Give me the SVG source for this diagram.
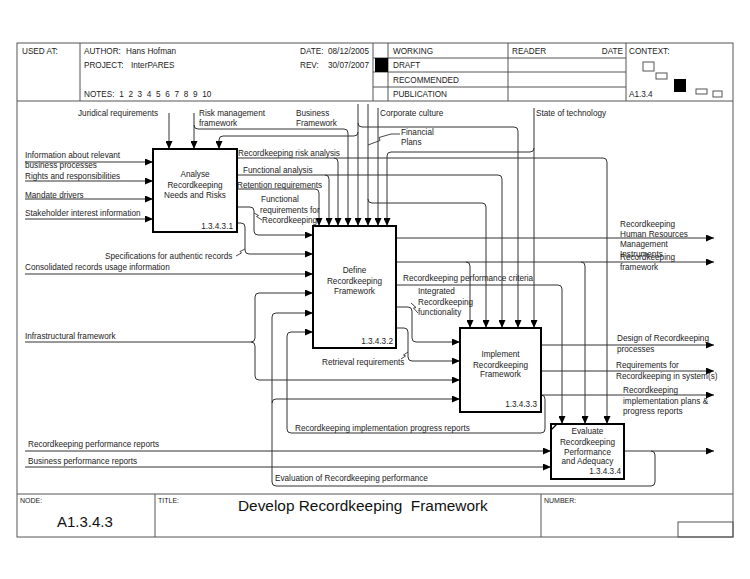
<svg xmlns="http://www.w3.org/2000/svg" width="750" height="579" viewBox="0 0 750 579">
<defs>
<marker id="ah" markerWidth="8" markerHeight="7" refX="8" refY="3.5" orient="auto" markerUnits="userSpaceOnUse"><path d="M0,0 L8,3.5 L0,7 z" fill="#000"/></marker>
<style>
.t{font-family:"Liberation Sans",Arial,sans-serif;font-size:8.2px;fill:#222}
.s{font-family:"Liberation Sans",Arial,sans-serif;font-size:7px;fill:#222}
.big{font-family:"Liberation Sans",Arial,sans-serif;font-size:15px;fill:#111}
.m{text-anchor:middle}
.f{fill:none;stroke:#555;stroke-width:1}
.c{fill:none;stroke:#333;stroke-width:1}
.a{marker-end:url(#ah)}
.box{fill:#fff;stroke:#000;stroke-width:2}
.sq{fill:none;stroke:#333;stroke-width:0.9}
</style>
</defs>
<rect width="750" height="579" fill="#fff"/>
<g id="frame">
<rect class="f" x="17" y="43" width="716" height="494"/>
<path class="f" d="M17,101H733 M80,43V101 M373,43V101 M388,43V101 M508,43V101 M626,43V101 M373,58H626 M373,72H626 M373,87H626"/>
<rect x="375" y="58" width="13" height="14" fill="#000"/>
<path class="f" d="M17,494H733 M155,494V537 M541,494V537"/>
<rect class="f" x="678" y="522" width="55" height="15"/>
<rect class="f" x="643" y="62" width="11" height="9"/>
<rect class="f" x="656" y="73" width="11" height="6"/>
<rect x="674" y="79" width="12" height="13" fill="#000"/>
<rect class="f" x="696" y="89" width="11" height="5"/>
<rect class="f" x="713" y="91" width="9" height="6"/>
</g>
<g id="header-text">
<text class="t" x="22" y="54">USED AT:</text>
<text class="t" x="84" y="54">AUTHOR:</text>
<text class="t" x="126" y="54">Hans Hofman</text>
<text class="t" x="300" y="54">DATE:</text>
<text class="t" x="328" y="54">08/12/2005</text>
<text class="t" x="84" y="68">PROJECT:</text>
<text class="t" x="131" y="68">InterPARES</text>
<text class="t" x="300" y="68">REV:</text>
<text class="t" x="328" y="68">30/07/2007</text>
<text class="t" x="84" y="97" word-spacing="2.4">NOTES: 1 2 3 4 5 6 7 8 9 10</text>
<text class="t" x="393" y="54">WORKING</text>
<text class="t" x="393" y="68">DRAFT</text>
<text class="t" x="393" y="83">RECOMMENDED</text>
<text class="t" x="393" y="97">PUBLICATION</text>
<text class="t" x="512" y="54">READER</text>
<text class="t" x="623" y="54" text-anchor="end">DATE</text>
<text class="t" x="629" y="54">CONTEXT:</text>
<text class="t" x="629" y="97">A1.3.4</text>
</g>
<g id="footer-text">
<text class="s" x="20" y="503">NODE:</text>
<text class="big" x="57" y="527">A1.3.4.3</text>
<text class="s" x="158" y="503">TITLE:</text>
<text class="big" x="238" y="511" style="font-size:15.4px" xml:space="preserve">Develop Recordkeeping  Framework</text>
<text class="s" x="544" y="503">NUMBER:</text>
</g>
<g id="connectors">
<path class="c a" d="M25,162H153"/>
<path class="c a" d="M25,181H153"/>
<path class="c a" d="M25,199H153"/>
<path class="c a" d="M25,219H153"/>
<path class="c a" d="M169,113V149"/>
<path class="c a" d="M194,113V149"/>
<path class="c a" d="M194,125Q194,129 198,129H344Q348,129 348,133V226"/>
<path class="c a" d="M358,104V226"/>
<path class="c a" d="M358,132Q358,136 354,136H223Q219,136 219,140V149"/>
<path class="c a" d="M358,123Q358,127 362,127H514Q518,127 518,131V328"/>
<path class="c a" d="M368,104V226"/>
<path class="c a" d="M368,199Q368,203 372,203H482Q486,203 486,207V328"/>
<path class="c a" d="M378,108V226"/>
<path class="c a" d="M534,108V328"/>
<path class="c a" d="M534,148Q534,152 530,152H391Q387,152 387,156V226"/>
<path class="c a" d="M237,158H603Q607,158 607,162V424"/>
<path class="c a" d="M334,158Q338,158 338,162V226"/>
<path class="c a" d="M237,175H498Q502,175 502,179V328"/>
<path class="c a" d="M325,175Q329,175 329,179V226"/>
<path class="c a" d="M237,189H315Q319,189 319,193V226"/>
<path class="c a" d="M237,207H250Q254,207 254,211V231Q254,235 258,235H313"/>
<path class="c a" d="M237,223H241Q245,223 245,227V250Q245,254 249,254H313"/>
<path class="c a" d="M25,274H313"/>
<path class="c a" d="M25,342H251Q255,342 255,338V297Q255,293 259,293H313"/>
<path class="c a" d="M251,342Q255,342 255,346V376Q255,380 259,380H460"/>
<path class="c a" d="M624,451H714"/>
<path class="c a" d="M651,451Q655,451 655,455V482Q655,486 651,486H276Q272,486 272,482V317Q272,313 276,313H313"/>
<path class="c a" d="M272,403Q272,399 276,399H460"/>
<path class="c a" d="M541,395H714"/>
<path class="c a" d="M541,395Q545,395 545,399V429Q545,433 541,433H291Q287,433 287,429V336Q287,332 291,332H313"/>
<path class="c a" d="M25,451H551"/>
<path class="c a" d="M25,467H551"/>
<path class="c a" d="M396,238H714"/>
<path class="c a" d="M396,262H714"/>
<path class="c a" d="M466,262Q470,262 470,266V328"/>
<path class="c a" d="M581,262Q585,262 585,266V424"/>
<path class="c a" d="M396,285H558Q562,285 562,289V424"/>
<path class="c a" d="M396,307H408Q412,307 412,311V338Q412,342 416,342H460"/>
<path class="c a" d="M396,328H404Q408,328 408,332V357Q408,361 412,361H460"/>
<path class="c a" d="M541,345H714"/>
<path class="c a" d="M541,371H714"/>
<path class="sq" d="M368,145L380,140.5L379,137.5L391,134H400"/>
<path class="sq" d="M254,213L258.5,215.5L256.5,216.5L262,220"/>
<path class="sq" d="M245,249L240,251.5L241.5,253L236,256"/>
<path class="sq" d="M411,303L416,307.5L413.5,308L418,313"/>
<path class="sq" d="M408,352L403.5,355L405.5,356L401,359"/>
</g>
<g id="labels">
<text class="t" x="78" y="116">Juridical requirements</text>
<text class="t" x="199" y="116">Risk management</text>
<text class="t" x="199" y="126">framework</text>
<text class="t" x="296" y="116">Business</text>
<text class="t" x="296" y="126">Framework</text>
<text class="t" x="380" y="116">Corporate culture</text>
<text class="t" x="401" y="135">Financial</text>
<text class="t" x="401" y="145">Plans</text>
<text class="t" x="536" y="116">State of technology</text>
<text class="t" x="25" y="158">Information about relevant</text>
<text class="t" x="25" y="168">business processes</text>
<text class="t" x="25" y="179">Rights and responsibilities</text>
<text class="t" x="25" y="198">Mandate drivers</text>
<text class="t" x="25" y="216">Stakeholder interest information</text>
<text class="t" x="238" y="156">Recordkeeping risk analysis</text>
<text class="t" x="243" y="173">Functional analysis</text>
<text class="t" x="237" y="188">Retention requirements</text>
<text class="t" x="261" y="202">Functional</text>
<text class="t" x="260" y="213">requirements for</text>
<text class="t" x="262" y="223">Recordkeeping</text>
<text class="t" x="105" y="259">Specifications for authentic records</text>
<text class="t" x="25" y="270">Consolidated records usage information</text>
<text class="t" x="25" y="339">Infrastructural framework</text>
<text class="t" x="403" y="281">Recordkeeping performance criteria</text>
<text class="t" x="418" y="294">Integrated</text>
<text class="t" x="418" y="304.5">Recordkeeping</text>
<text class="t" x="418" y="315">functionality</text>
<text class="t" x="322" y="365">Retrieval requirements</text>
<text class="t" x="295" y="431">Recordkeeping implementation progress reports</text>
<text class="t" x="28" y="447">Recordkeeping performance reports</text>
<text class="t" x="28" y="464">Business performance reports</text>
<text class="t" x="275" y="481">Evaluation of Recordkeeping performance</text>
<text class="t" x="620" y="227">Recordkeeping</text>
<text class="t" x="620" y="237">Human Resources</text>
<text class="t" x="620" y="247">Management</text>
<text class="t" x="620" y="257">Instruments</text>
<text class="t" x="620" y="259.5">Recordkeeping</text>
<text class="t" x="620" y="269.5">framework</text>
<text class="t" x="617" y="341">Design of Recordkeeping</text>
<text class="t" x="617" y="352">processes</text>
<text class="t" x="616" y="368">Requirements for</text>
<text class="t" x="616" y="379">Recordkeeping in system(s)</text>
<text class="t" x="623" y="393">Recordkeeping</text>
<text class="t" x="623" y="404">implementation plans &amp;</text>
<text class="t" x="623" y="414">progress reports</text>
</g>
<g id="node-A1341">
<rect class="box" x="153" y="149" width="84" height="83"/>
<text class="t m" x="195" y="177">Analyse</text>
<text class="t m" x="195" y="188">Recordkeeping</text>
<text class="t m" x="195" y="198">Needs and Risks</text>
<text class="t" x="233" y="229" text-anchor="end">1.3.4.3.1</text>
</g>
<g id="node-A1342">
<rect class="box" x="313" y="226" width="83" height="122"/>
<text class="t m" x="354.5" y="273">Define</text>
<text class="t m" x="354.5" y="284">Recordkeeping</text>
<text class="t m" x="354.5" y="294">Framework</text>
<text class="t" x="393" y="344" text-anchor="end">1.3.4.3.2</text>
</g>
<g id="node-A1343">
<rect class="box" x="460" y="328" width="81" height="84"/>
<text class="t m" x="500.5" y="357">Implement</text>
<text class="t m" x="500.5" y="367.5">Recordkeeping</text>
<text class="t m" x="500.5" y="377">Framework</text>
<text class="t" x="537" y="407" text-anchor="end">1.3.4.3.3</text>
</g>
<g id="node-A1344">
<rect class="box" x="551" y="424" width="73" height="55"/>
<path d="M551,430L557,424" stroke="#000" stroke-width="1.2"/>
<text class="t m" x="587.5" y="434">Evaluate</text>
<text class="t m" x="587.5" y="444.5">Recordkeeping</text>
<text class="t m" x="587.5" y="454.5">Performance</text>
<text class="t m" x="587.5" y="464">and Adequacy</text>
<text class="t" x="621" y="474" text-anchor="end">1.3.4.3.4</text>
</g>
</svg>
